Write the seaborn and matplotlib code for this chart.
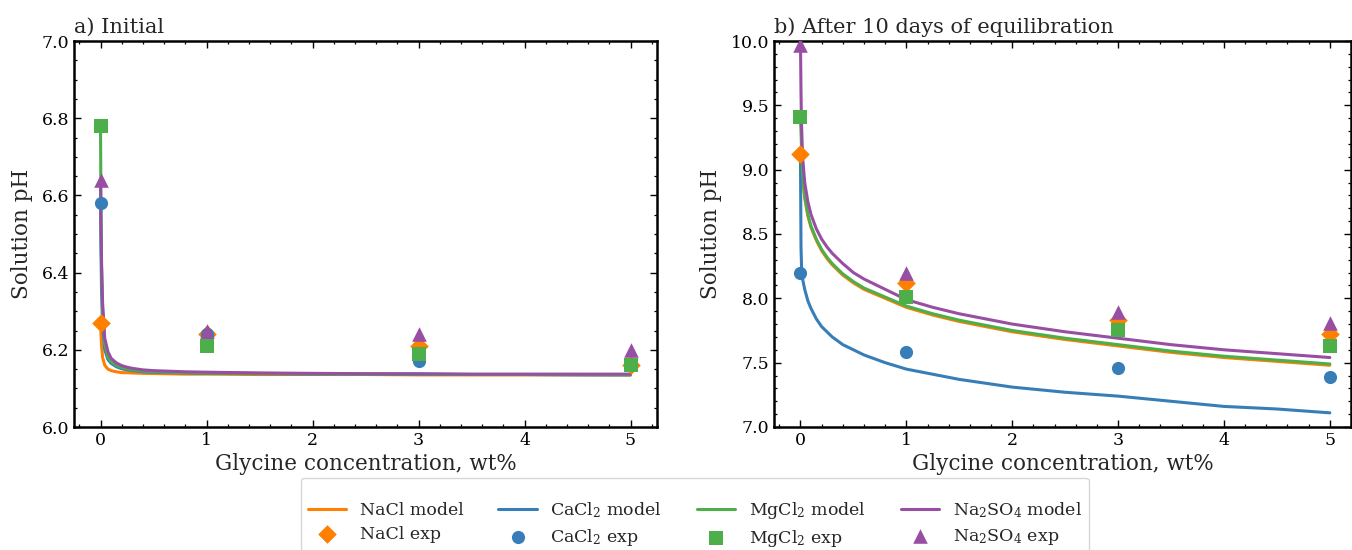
import numpy as np
import pandas as pd
import matplotlib
matplotlib.use("Agg")
import matplotlib.pyplot as plt
import seaborn as sns
from matplotlib.ticker import MultipleLocator

# ---------------- data ----------------
salts = ["NaCl", "CaCl$_2$", "MgCl$_2$", "Na$_2$SO$_4$"]
exp_x = [0, 1, 3, 5]

# a) Initial - experimental
init_nacl = [6.27, 6.24, 6.21, 6.16]
init_cacl2 = [6.58, 6.24, 6.17, 6.16]
init_mgcl2 = [6.78, 6.21, 6.19, 6.16]
init_na2so4 = [6.64, 6.25, 6.24, 6.20]

# b) After 10 days - experimental
eq_nacl = [9.12, 8.12, 7.83, 7.72]
eq_cacl2 = [8.20, 7.58, 7.46, 7.39]
eq_mgcl2 = [9.41, 8.01, 7.75, 7.63]
eq_na2so4 = [9.97, 8.20, 7.89, 7.81]

# model curves
model_x = [0, 0.005, 0.01, 0.02, 0.04, 0.07, 0.1, 0.15, 0.2, 0.25, 0.3, 0.4, 0.5, 0.6,
           0.8, 1, 1.25, 1.5, 2, 2.5, 3, 3.5, 4, 4.5, 5]

init_model_nacl = [6.27, 6.24, 6.21, 6.18, 6.160, 6.150, 6.146, 6.143, 6.141, 6.1405, 6.140, 6.139, 6.1385,
                   6.138, 6.137, 6.137, 6.1365, 6.136, 6.136, 6.136, 6.135, 6.135, 6.135, 6.135, 6.135]
init_model_cacl2 = [6.58, 6.45, 6.35, 6.26, 6.20, 6.175, 6.165, 6.156, 6.151, 6.148, 6.146, 6.143, 6.142,
                    6.141, 6.140, 6.139, 6.1385, 6.138, 6.137, 6.137, 6.136, 6.136, 6.136, 6.135, 6.135]
init_model_mgcl2 = [6.78, 6.55, 6.42, 6.30, 6.215, 6.182, 6.170, 6.160, 6.154, 6.151, 6.148, 6.145, 6.1435,
                    6.142, 6.141, 6.140, 6.1395, 6.139, 6.138, 6.137, 6.137, 6.136, 6.136, 6.136, 6.135]
init_model_na2so4 = [6.64, 6.52, 6.42, 6.32, 6.23, 6.195, 6.178, 6.166, 6.159, 6.155, 6.152, 6.148, 6.146,
                     6.145, 6.143, 6.142, 6.141, 6.140, 6.139, 6.138, 6.138, 6.137, 6.137, 6.137, 6.137]

eq_model_nacl = [9.12, 9.10, 9.05, 8.95, 8.78, 8.64, 8.55, 8.45, 8.37, 8.31, 8.26, 8.18, 8.12,
                 8.07, 8.00, 7.93, 7.87, 7.82, 7.74, 7.68, 7.63, 7.58, 7.54, 7.51, 7.48]
eq_model_cacl2 = [9.10, 8.40, 8.25, 8.15, 8.07, 7.98, 7.92, 7.84, 7.78, 7.74, 7.70, 7.64, 7.60,
                  7.56, 7.50, 7.45, 7.41, 7.37, 7.31, 7.27, 7.24, 7.20, 7.16, 7.14, 7.11]
eq_model_mgcl2 = [9.41, 9.30, 9.17, 8.98, 8.79, 8.65, 8.56, 8.46, 8.38, 8.32, 8.27, 8.19, 8.13,
                  8.08, 8.01, 7.94, 7.88, 7.83, 7.75, 7.69, 7.64, 7.59, 7.55, 7.52, 7.49]
eq_model_na2so4 = [10.0, 9.60, 9.35, 9.10, 8.90, 8.75, 8.65, 8.54, 8.46, 8.40, 8.35, 8.27, 8.20,
                   8.15, 8.07, 7.99, 7.93, 7.88, 7.80, 7.74, 7.69, 7.64, 7.60, 7.57, 7.54]

colors = ["#ff7f00", "#377eb8", "#4daf4a", "#984ea3"]
markers = ["D", "o", "s", "^"]
msizes = [90, 90, 90, 110]

# ---------------- style ----------------
sns.set_theme(style="ticks")
plt.rcParams.update({
    "font.family": ["DejaVu Serif"],
    "mathtext.fontset": "dejavuserif",
    "xtick.direction": "in", "ytick.direction": "in",
    "xtick.top": True, "ytick.right": True,
    "xtick.minor.visible": True, "ytick.minor.visible": True,
    "xtick.major.size": 5, "ytick.major.size": 5,
    "xtick.minor.size": 2.5, "ytick.minor.size": 2.5,
    "axes.linewidth": 1.8,
    "xtick.major.width": 1.0, "ytick.major.width": 1.0,
    "xtick.minor.width": 0.9, "ytick.minor.width": 0.9,
    "xtick.color": "black", "ytick.color": "black",
    "axes.edgecolor": "black",
})

fig = plt.figure(figsize=(13.52, 5.5), dpi=100)
W, H = 1352, 550
ax1 = fig.add_axes([74 / W, 1 - 427 / H, (657 - 74) / W, (427 - 41) / H])
ax2 = fig.add_axes([774 / W, 1 - 427 / H, (1351 - 774) / W, (427 - 41) / H])

panels = [
    (ax1, [init_model_nacl, init_model_cacl2, init_model_mgcl2, init_model_na2so4],
     [init_nacl, init_cacl2, init_mgcl2, init_na2so4], "a) Initial", (6.0, 7.0), 0.2, 0.05, (-0.25, 5.25)),
    (ax2, [eq_model_nacl, eq_model_cacl2, eq_model_mgcl2, eq_model_na2so4],
     [eq_nacl, eq_cacl2, eq_mgcl2, eq_na2so4], "b) After 10 days of equilibration", (7.0, 10.0), 0.5, 0.1, (-0.25, 5.2)),
]

for ax, models, exps, title, ylim, ymaj, ymin, xlim in panels:
    for i, salt in enumerate(salts):
        dfm = pd.DataFrame({"x": model_x, "y": models[i]})
        sns.lineplot(data=dfm, x="x", y="y", ax=ax, color=colors[i], lw=2.2,
                     label=f"{salt} model", sort=False, estimator=None)
    for i, salt in enumerate(salts):
        dfe = pd.DataFrame({"x": exp_x, "y": exps[i]})
        sns.scatterplot(data=dfe, x="x", y="y", ax=ax, color=colors[i], marker=markers[i],
                        s=msizes[i], linewidth=0, label=f"{salt} exp", zorder=3)
    ax.set_xlim(*xlim)
    ax.set_ylim(*ylim)
    ax.xaxis.set_major_locator(MultipleLocator(1))
    ax.xaxis.set_minor_locator(MultipleLocator(0.2))
    ax.yaxis.set_major_locator(MultipleLocator(ymaj))
    ax.yaxis.set_minor_locator(MultipleLocator(ymin))
    ax.set_xlabel("Glycine concentration, wt%", fontsize=15.5, labelpad=3)
    ax.set_ylabel("Solution pH", fontsize=15.5, labelpad=6)
    ax.set_title(title, loc="left", fontsize=15, pad=6)
    ax.tick_params(labelsize=12.5)
    ax.get_legend().remove()

h, l = ax1.get_legend_handles_labels()
order = []
for i in range(4):
    order += [i, i + 4]
fig.legend([h[k] for k in order], [l[k] for k in order], ncol=4, loc="upper center",
           bbox_to_anchor=(0.514, 1 - 478 / H), fontsize=12.5, frameon=True, fancybox=True,
           edgecolor="#cccccc", columnspacing=2.0, handlelength=2.2, handletextpad=0.8,
           labelspacing=0.4, borderaxespad=0.0, borderpad=0.4,
           title=" ", title_fontsize=5)

fig.savefig("out.png", dpi=100)
